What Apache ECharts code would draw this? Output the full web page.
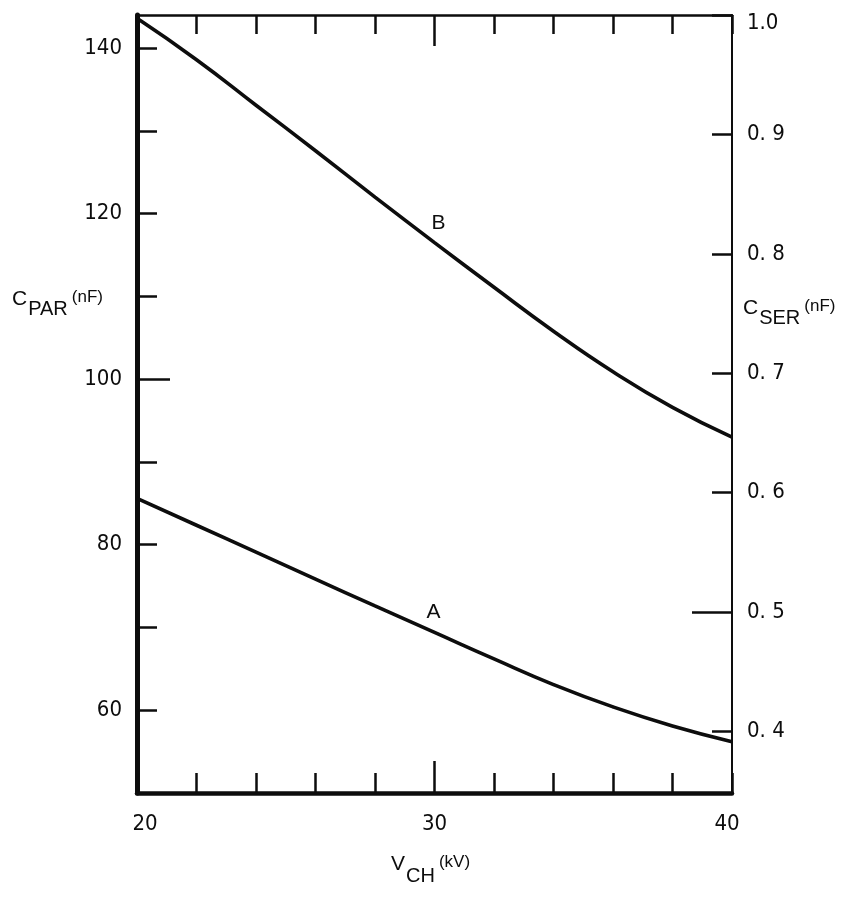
<!DOCTYPE html>
<html>
<head>
<meta charset="utf-8">
<script src="https://cdn.jsdelivr.net/npm/echarts@6/dist/echarts.min.js"></script>
<style>
html,body{margin:0;padding:0;background:#fff;}
#chart{width:855px;height:898px;}
</style>
</head>
<body>
<div id="chart"></div>
<script>
// ---- data ----
const vch = [20, 22, 24, 26, 28, 30, 32, 34, 36, 38, 40];            // V_CH (kV)
const curveB = [143.6, 138.6, 133.1, 127.6, 122.0, 116.5, 111.1, 105.8, 100.9, 96.6, 93.0];
const curveA = [85.6, 82.35, 79.1, 75.85, 72.6, 69.4, 66.2, 63.1, 60.4, 58.1, 56.2];
const curveNames = ['A', 'B'];
const labelAt = 30;                                                   // x where the curve letters sit

// ---- axis ticks / labels ----
const xLabels = [20, 30, 40];
const xLongTicks = [30];
const leftTicks = [60, 70, 80, 90, 100, 110, 120, 130, 140];
const leftLabels = [60, 80, 100, 120, 140];
const leftLongTicks = [100];
const rightTicks = [0.4, 0.5, 0.6, 0.7, 0.8, 0.9, 1.0];
const rightLongTicks = [0.5];
const xRange = [20, 40];
const leftRange = [50, 144];
const rightRange = [0.3486, 1.0];

const FONT = '"Liberation Sans Narrow", "DejaVu Sans Condensed", "Liberation Sans", sans-serif';
const TFONT = '"Liberation Sans", "DejaVu Sans", sans-serif';
const INK = '#0d0d0d';

function pairs(xs, ys) {
  return xs.map((x, i) => ({ value: [x, ys[i]] }));
}
function withLabel(data, name, offset) {
  return data.map(d => d.value[0] === labelAt ? {
    value: d.value,
    label: { show: true, formatter: name, position: 'top', distance: 5, offset: offset,
             fontFamily: TFONT, fontSize: 21, color: INK }
  } : d);
}

const hiddenAxisBase = {
  axisLine: { show: false },
  axisLabel: { show: false },
  splitLine: { show: false }
};
const titleRich = (subPad) => ({
  m: { fontFamily: TFONT, fontSize: 21, verticalAlign: 'top', lineHeight: 21 },
  s: { fontFamily: TFONT, fontSize: 20, verticalAlign: 'top', lineHeight: 21, padding: [subPad, 0, 0, 1] },
  u: { fontFamily: TFONT, fontSize: 17, verticalAlign: 'top', lineHeight: 19, padding: [0, 0, 0, 4] }
});

const option = {
  backgroundColor: '#fff',
  animation: false,
  grid: { left: 137, right: 123, top: 15, bottom: 105, containLabel: false },
  xAxis: [
    {
      type: 'value', position: 'bottom', min: xRange[0], max: xRange[1], interval: 2,
      axisLine: { show: true, onZero: false, lineStyle: { color: INK, width: 4.5 } },
      axisTick: { show: true, inside: true, length: 20, lineStyle: { color: INK, width: 2.5 } },
      axisLabel: {
        show: true, customValues: xLabels, margin: 20, fontFamily: FONT, fontSize: 22, color: INK,
        formatter: v => v === xLabels[0] ? '{l|' + v + '}' : (v === xLabels[2] ? '{r|' + v + '}' : '' + v),
        rich: {
          l: { fontFamily: FONT, fontSize: 22, color: INK, padding: [0, 0, 0, 16] },
          r: { fontFamily: FONT, fontSize: 22, color: INK, padding: [0, 10, 0, 0] }
        }
      },
      splitLine: { show: false }
    },
    {
      type: 'value', position: 'top', min: xRange[0], max: xRange[1], interval: 2,
      axisLine: { show: true, onZero: false, lineStyle: { color: INK, width: 2.5 } },
      axisTick: { show: true, inside: true, length: 19, lineStyle: { color: INK, width: 2.5 } },
      axisLabel: { show: false },
      splitLine: { show: false }
    },
    Object.assign({
      type: 'value', position: 'bottom', min: xRange[0], max: xRange[1],
      axisTick: { show: true, inside: true, length: 32, customValues: xLongTicks, lineStyle: { color: INK, width: 2.5 } }
    }, hiddenAxisBase),
    Object.assign({
      type: 'value', position: 'top', min: xRange[0], max: xRange[1],
      axisTick: { show: true, inside: true, length: 31, customValues: xLongTicks, lineStyle: { color: INK, width: 2.5 } }
    }, hiddenAxisBase)
  ],
  yAxis: [
    {
      type: 'value', position: 'left', min: leftRange[0], max: leftRange[1],
      axisLine: { show: true, onZero: false, lineStyle: { color: INK, width: 5 } },
      axisTick: { show: true, inside: true, length: 20, customValues: leftTicks, lineStyle: { color: INK, width: 2.5 } },
      axisLabel: { show: true, customValues: leftLabels, margin: 15, fontFamily: FONT, fontSize: 22, color: INK },
      splitLine: { show: false }
    },
    {
      type: 'value', position: 'right', min: rightRange[0], max: rightRange[1],
      axisLine: { show: true, onZero: false, lineStyle: { color: INK, width: 2 } },
      axisTick: { show: true, inside: true, length: 20, customValues: rightTicks, lineStyle: { color: INK, width: 2.5 } },
      axisLabel: {
        show: true, customValues: rightTicks, margin: 15, fontFamily: FONT, fontSize: 22, color: INK,
        formatter: v => v >= 0.999 ? '{t|1.0}' : '0. ' + Math.round(v * 10),
        rich: { t: { fontFamily: FONT, fontSize: 22, color: INK, padding: [16, 0, 0, 0] } }
      },
      splitLine: { show: false }
    },
    Object.assign({
      type: 'value', position: 'left', min: leftRange[0], max: leftRange[1],
      axisTick: { show: true, inside: true, length: 33, customValues: leftLongTicks, lineStyle: { color: INK, width: 2.5 } }
    }, hiddenAxisBase),
    Object.assign({
      type: 'value', position: 'right', min: rightRange[0], max: rightRange[1],
      axisTick: { show: true, inside: true, length: 40, customValues: rightLongTicks, lineStyle: { color: INK, width: 2.5 } }
    }, hiddenAxisBase)
  ],
  series: [
    {
      name: curveNames[1], type: 'line', xAxisIndex: 0, yAxisIndex: 0, smooth: 0.5,
      symbol: 'circle', symbolSize: 0, showSymbol: true,
      lineStyle: { color: INK, width: 3.6 }, itemStyle: { color: INK },
      data: withLabel(pairs(vch, curveB), curveNames[1], [4, -4])
    },
    {
      name: curveNames[0], type: 'line', xAxisIndex: 0, yAxisIndex: 0, smooth: 0.5,
      symbol: 'circle', symbolSize: 0, showSymbol: true,
      lineStyle: { color: INK, width: 3.6 }, itemStyle: { color: INK },
      data: withLabel(pairs(vch, curveA), curveNames[0], [-1, -5])
    }
  ],
  graphic: [
    {
      type: 'text', left: 12, top: 289,
      style: { text: '{m|C}{s|PAR}{u|(nF)}', fill: INK, rich: titleRich(10) }
    },
    {
      type: 'text', left: 743, top: 298,
      style: { text: '{m|C}{s|SER}{u|(nF)}', fill: INK, rich: titleRich(10) }
    },
    {
      type: 'text', left: 391, top: 854,
      style: { text: '{m|V}{s|CH}{u|(kV)}', fill: INK, rich: titleRich(12) }
    }
  ]
};

const chart = echarts.init(document.getElementById('chart'), null, { renderer: 'canvas' });
chart.setOption(option);
</script>
</body>
</html>
